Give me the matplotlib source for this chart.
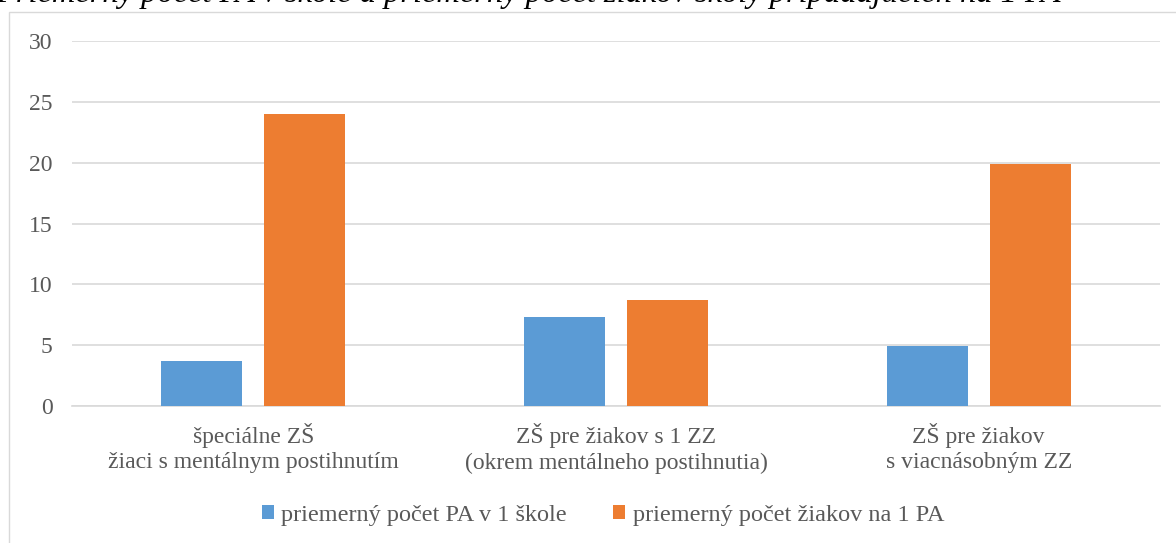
import matplotlib.pyplot as plt
import numpy as np
from matplotlib.patches import Rectangle

# kategórie a hodnoty odčítané z grafu
categories = ["špeciálne ZŠ\nžiaci s mentálnym postihnutím",
              "ZŠ pre žiakov s 1 ZZ\n(okrem mentálneho postihnutia)",
              "ZŠ pre žiakov\ns viacnásobným ZZ"]
pa_per_school = [3.7, 7.3, 4.95]
pupils_per_pa = [24.0, 8.7, 19.9]
series_names = ["priemerný počet PA v 1 škole", "priemerný počet žiakov na 1 PA"]
yticks = [0, 5, 10, 15, 20, 25, 30]

title = "Priemerný počet PA v škole a priemerný počet žiakov školy pripadajúcich na 1 PA"

plt.rcParams['font.family'] = ['Liberation Serif', 'DejaVu Serif']

W, H = 1176, 543
fig = plt.figure(figsize=(W / 100, H / 100), dpi=100)

# rámček oblasti grafu
fig.patches.append(Rectangle((9 / W, -0.1), 1.2, (H - 12) / H + 0.1,
                             transform=fig.transFigure, fill=False,
                             edgecolor="#d9d9d9", linewidth=1))

ax = fig.add_axes([72 / W, 1 - 406 / H, (1160 - 72) / W, (406 - 41) / H])

x = np.arange(len(categories))
w = 0.223
off = 0.142
ax.bar(x - off, pa_per_school, w, color="#5B9BD5", label=series_names[0], zorder=3)
ax.bar(x + off, pupils_per_pa, w, color="#ED7D31", label=series_names[1], zorder=3)

ax.set_xlim(-0.5, 2.5)
ax.set_ylim(0, 30)
ax.set_yticks(yticks)
ax.set_xticks(x)
ax.set_xticklabels(categories, fontsize=17, color="#595959", linespacing=1.3)
ax.tick_params(axis="y", labelsize=17, labelcolor="#595959", length=0, pad=14)
ax.tick_params(axis="x", length=0, pad=12)
ax.grid(axis="y", color="#d9d9d9", linewidth=1.2, zorder=0)
for s in ["top", "right", "left"]:
    ax.spines[s].set_visible(False)
ax.spines["bottom"].set_color("#d9d9d9")
ax.spines["bottom"].set_linewidth(1.2)

leg = fig.legend(loc="center", bbox_to_anchor=(603 / W, 1 - 515 / H), ncol=2,
                 frameon=False, fontsize=17.5, handlelength=0.5, handleheight=0.5,
                 handletextpad=0.3, columnspacing=1.9, labelcolor="#595959")

fig.text(-4 / W, 1 - 2 / H, title, fontsize=23.4, style="italic", color="black",
         ha="left", va="baseline")

fig.savefig("out.png", dpi=100)
